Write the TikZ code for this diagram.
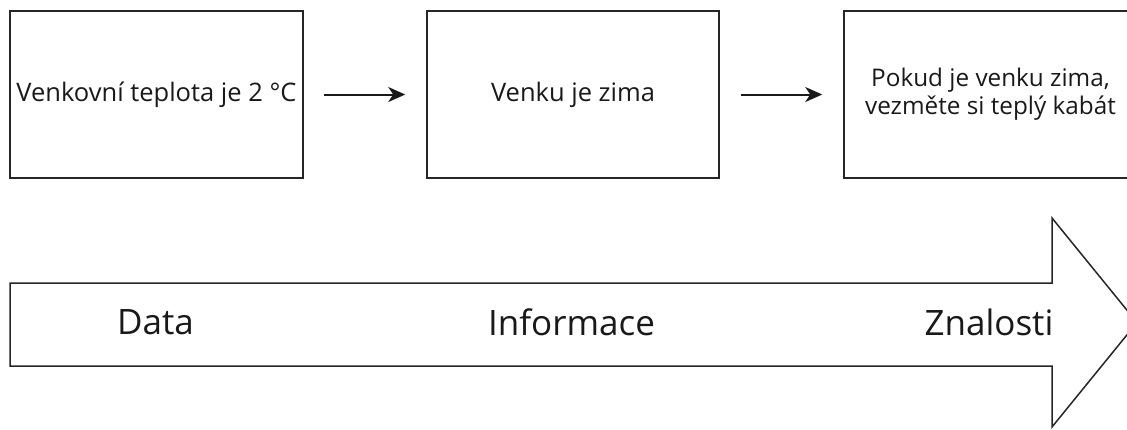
\documentclass[tikz,border=0pt]{standalone}
\usepackage{fontspec}
\setmainfont{Open Sans}
\usetikzlibrary{arrows.meta}
\begin{document}
\begin{tikzpicture}[x=1pt,y=-1pt,
  box/.style={draw=black!85, line width=1.5pt, minimum width=293pt, minimum height=167pt,
    inner sep=0pt, align=center, font=\fontsize{25.5}{28}\selectfont, text=black!90},
  link/.style={line width=2pt, black!90, -{Stealth[length=17pt,width=15pt,inset=5pt]}},
  stage/.style={font=\fontsize{35}{40}\selectfont, text=black!90, inner sep=0pt}]
  \useasboundingbox (0,0) rectangle (1127,429);
  \clip (0,0) rectangle (1127,429);

  % three example boxes
  \node[box] (data) at (156.5,94.5) {Venkovní teplota je 2 °C};
  \node[box, minimum width=292pt] (info) at (573,94.5) {Venku je zima};
  \node[box, font=\fontsize{24.3}{28}\selectfont] (know) at (990.5,94.5)
    {Pokud je venku zima,\\vezměte si teplý kabát};

  \draw[link] ([xshift=20pt]data.east) -- ([xshift=-21pt]info.west);
  \draw[link] ([xshift=21pt]info.east) -- ([xshift=-21pt]know.west);

  % big block arrow
  \draw[line width=1.5pt, black!85, line join=miter]
    (10,283) -- (1052,283) -- (1052,218) -- (1137,322.5) -- (1052,427)
    -- (1052,366) -- (10,366) -- cycle;

  \node[stage] (s1) at (155.5,322.5) {Data};
  \node[stage] (s2) at (571.5,322.5) {Informace};
  \node[stage] (s3) at (989,322.5) {Znalosti};
\end{tikzpicture}
\end{document}
